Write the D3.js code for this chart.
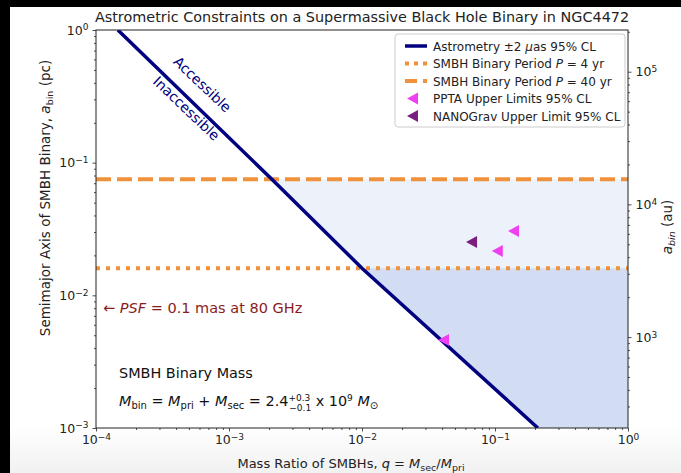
<!DOCTYPE html>
<html>
<head>
<meta charset="utf-8">
<script src="https://cdn.jsdelivr.net/npm/d3@7"></script>
<style>
  body { margin: 0; background: #fff; }
  svg { display: block; font-family: "DejaVu Sans", sans-serif; }
</style>
</head>
<body>
<svg id="chart" width="681" height="473"></svg>
<script>
// astrometry limit line (q, a_bin in pc)
var lineQ = [1.46e-4, 2.1e-3, 1.0e-2, 0.21];
var lineA = [1.0, 0.075, 0.016, 0.001];

// binary period lines (pc)
var period4 = 0.016;
var period40 = 0.075;

// pulsar timing upper limits
var pptaQ = [0.0414, 0.105, 0.139];
var pptaA = [0.0046, 0.0216, 0.0306];
var nanoQ = [0.0672];
var nanoA = [0.0252];

var xTicks = [1e-4, 1e-3, 1e-2, 1e-1, 1];
var xExp = ["\u22124", "\u22123", "\u22122", "\u22121", "0"];
var yTicks = [1e-3, 1e-2, 1e-1, 1];
var yExp = ["\u22123", "\u22122", "\u22121", "0"];
var auTicks = [1e3, 1e4, 1e5];
var auExp = ["3", "4", "5"];
var pcToAu = 206265;

var margin = {top: 30, right: 53, bottom: 45, left: 96},
    width = 628 - margin.left,
    height = 428 - margin.top;

var svg = d3.select("#chart");

// background: black strip on the left and top, faint grey at the bottom
var defs = svg.append("defs");
var grad = defs.append("linearGradient").attr("id", "bg").attr("x1", 0).attr("x2", 0).attr("y1", 0).attr("y2", 1);
grad.append("stop").attr("offset", "0.9").attr("stop-color", "#ffffff");
grad.append("stop").attr("offset", "1").attr("stop-color", "#f1f1f1");
svg.append("rect").attr("width", 681).attr("height", 473).attr("fill", "#000");
svg.append("rect").attr("x", 10).attr("y", 7).attr("width", 671).attr("height", 466).attr("fill", "url(#bg)");

defs.append("clipPath").attr("id", "plotclip")
  .append("rect").attr("width", width).attr("height", height);

var g = svg.append("g").attr("transform", "translate(" + margin.left + "," + margin.top + ")");

var x = d3.scaleLog().domain([1e-4, 1]).range([0, width]);
var y = d3.scaleLog().domain([1e-3, 1]).range([height, 0]);
var yAu = d3.scaleLog().domain([1e-3 * pcToAu, pcToAu]).range([height, 0]);

var plot = g.append("g").attr("clip-path", "url(#plotclip)");

var linePts = lineQ.map(function(q, i) { return [q, lineA[i]]; });

// shaded regions right of the astrometry line, below each period line
function region(level) {
  var pts = linePts.filter(function(d) { return d[1] <= level; });
  pts.push([1, 1e-3], [1, level]);
  return pts;
}
var area = d3.line().x(function(d) { return x(d[0]); }).y(function(d) { return y(d[1]); });
plot.append("path").attr("d", area(region(period40)) + "Z").attr("fill", "#6d93db").attr("fill-opacity", 0.13);
plot.append("path").attr("d", area(region(period4)) + "Z").attr("fill", "#6d93db").attr("fill-opacity", 0.2);

var orange = "#f0923b";
plot.append("line").attr("x1", 0).attr("x2", width).attr("y1", y(period40)).attr("y2", y(period40))
  .attr("stroke", orange).attr("stroke-width", 4).attr("stroke-dasharray", "15,6");
plot.append("line").attr("x1", 0).attr("x2", width).attr("y1", y(period4)).attr("y2", y(period4))
  .attr("stroke", orange).attr("stroke-width", 4).attr("stroke-dasharray", "4,6");

plot.append("path").attr("d", area(linePts)).attr("fill", "none")
  .attr("stroke", "#000080").attr("stroke-width", 3.5);

// left-pointing triangles
function tri(sel, color) {
  sel.attr("d", "M-6,0L5,-6L5,6Z").attr("fill", color);
}
plot.selectAll(".nano").data(nanoQ).enter().append("path")
  .attr("transform", function(d, i) { return "translate(" + x(d) + "," + y(nanoA[i]) + ")"; })
  .call(tri, "#7a1f7e");
plot.selectAll(".ppta").data(pptaQ).enter().append("path")
  .attr("transform", function(d, i) { return "translate(" + x(d) + "," + y(pptaA[i]) + ")"; })
  .call(tri, "#ee3ff0");

// axes
function supLabels(axisG, exps) {
  axisG.selectAll(".tick text").each(function(d, i) {
    var t = d3.select(this);
    t.text("10");
    t.append("tspan").attr("dy", "-0.45em").attr("font-size", "9px").text(exps[i]);
  });
}
function minors(dom) {
  var out = [];
  for (var e = Math.round(Math.log10(dom[0])); e < Math.round(Math.log10(dom[1])); e++)
    for (var k = 2; k < 10; k++) out.push(k * Math.pow(10, e));
  return out;
}

var xMin = g.append("g").attr("transform", "translate(0," + height + ")")
  .call(d3.axisBottom(x).tickValues(minors([1e-4, 1])).tickSize(2).tickFormat(""));
var xAx = g.append("g").attr("transform", "translate(0," + height + ")")
  .call(d3.axisBottom(x).tickValues(xTicks).tickSize(3.5).tickPadding(4));
supLabels(xAx, xExp);

var yMin = g.append("g").call(d3.axisLeft(y).tickValues(minors([1e-3, 1])).tickSize(2).tickFormat(""));
var yAx = g.append("g").call(d3.axisLeft(y).tickValues(yTicks).tickSize(3.5).tickPadding(4));
supLabels(yAx, yExp);

var auMinorVals = minors([1e2, 1e6]).filter(function(v) { return v >= 1e-3 * pcToAu && v <= pcToAu; });
var rMin = g.append("g").attr("transform", "translate(" + width + ",0)")
  .call(d3.axisRight(yAu).tickValues(auMinorVals).tickSize(2).tickFormat(""));
var rAx = g.append("g").attr("transform", "translate(" + width + ",0)")
  .call(d3.axisRight(yAu).tickValues(auTicks).tickSize(3.5).tickPadding(4));
supLabels(rAx, auExp);

[xMin, xAx, yMin, yAx, rMin, rAx].forEach(function(a) {
  a.select(".domain").remove();
  a.selectAll(".tick line").attr("stroke", "#222").attr("stroke-width", 0.8);
  a.selectAll("text").attr("font-family", "DejaVu Sans").attr("font-size", "12.5px").attr("fill", "#222");
});

g.append("rect").attr("width", width).attr("height", height)
  .attr("fill", "none").attr("stroke", "#222").attr("stroke-width", 1);

// title and axis labels
svg.append("text").attr("x", 362).attr("y", 22).attr("text-anchor", "middle")
  .attr("font-size", "14.4px").attr("fill", "#222")
  .text("Astrometric Constraints on a Supermassive Black Hole Binary in NGC4472");

var xl = svg.append("text").attr("x", 351).attr("y", 468).attr("text-anchor", "middle")
  .attr("font-size", "13px").attr("fill", "#222");
xl.append("tspan").text("Mass Ratio of SMBHs, ");
xl.append("tspan").attr("font-style", "italic").text("q");
xl.append("tspan").text(" = ");
xl.append("tspan").attr("font-style", "italic").text("M");
xl.append("tspan").attr("font-size", "9.5px").attr("dy", 3).text("sec");
xl.append("tspan").attr("dy", -3).text("/");
xl.append("tspan").attr("font-style", "italic").text("M");
xl.append("tspan").attr("font-size", "9.5px").attr("dy", 3).text("pri");

var yl = svg.append("text").attr("transform", "translate(50,198) rotate(-90)")
  .attr("text-anchor", "middle").attr("font-size", "13.5px").attr("fill", "#222");
yl.append("tspan").text("Semimajor Axis of SMBH Binary, ");
yl.append("tspan").attr("font-style", "italic").text("a");
yl.append("tspan").attr("font-size", "9.5px").attr("dy", 3).text("bin");
yl.append("tspan").attr("dy", -3).text(" (pc)");

var rl = svg.append("text").attr("transform", "translate(672,227) rotate(-90)")
  .attr("text-anchor", "middle").attr("font-size", "13.5px").attr("fill", "#222");
rl.append("tspan").attr("font-style", "italic").text("a");
rl.append("tspan").attr("font-style", "italic").attr("font-size", "9.5px").attr("dy", 3).text("bin");
rl.append("tspan").attr("dy", -3).text(" (au)");

// annotations
var ang = Math.atan2(y(lineA[3]) - y(lineA[0]), x(lineQ[3]) - x(lineQ[0])) * 180 / Math.PI;
svg.append("text").attr("transform", "translate(199,88) rotate(" + ang + ")")
  .attr("text-anchor", "middle").attr("font-size", "14px").attr("fill", "#000080").text("Accessible");
svg.append("text").attr("transform", "translate(183,112) rotate(" + ang + ")")
  .attr("text-anchor", "middle").attr("font-size", "14px").attr("fill", "#000080").text("Inaccessible");

var psf = svg.append("text").attr("x", 103).attr("y", 313).attr("font-size", "14.5px").attr("fill", "#8b1c1c");
psf.append("tspan").text("\u2190 ");
psf.append("tspan").attr("font-style", "italic").text("PSF");
psf.append("tspan").text(" = 0.1 mas at 80 GHz");

svg.append("text").attr("x", 119).attr("y", 378).attr("font-size", "14.4px").attr("fill", "#111")
  .text("SMBH Binary Mass");
var mt = svg.append("text").attr("x", 119).attr("y", 406).attr("font-size", "14.4px").attr("fill", "#111");
mt.append("tspan").attr("font-style", "italic").text("M");
mt.append("tspan").attr("font-size", "10px").attr("dy", 3).text("bin");
mt.append("tspan").attr("dy", -3).text(" = ");
mt.append("tspan").attr("font-style", "italic").text("M");
mt.append("tspan").attr("font-size", "10px").attr("dy", 3).text("pri");
mt.append("tspan").attr("dy", -3).text(" + ");
mt.append("tspan").attr("font-style", "italic").text("M");
mt.append("tspan").attr("font-size", "10px").attr("dy", 3).text("sec");
mt.append("tspan").attr("dy", -3).text(" = 2.4");
mt.append("tspan").attr("font-size", "9px").attr("dy", -5).text("+0.3");
mt.append("tspan").attr("font-size", "9px").attr("dx", -21).attr("dy", 10).text("\u22120.1");
mt.append("tspan").attr("dy", -5).text(" x 10");
mt.append("tspan").attr("font-size", "9px").attr("dy", -5).text("9");
mt.append("tspan").attr("dy", 5).attr("font-style", "italic").text(" M");
mt.append("tspan").attr("font-size", "10px").attr("dy", 3).text("\u2299");

// legend
var leg = svg.append("g").attr("transform", "translate(395,34)");
leg.append("rect").attr("width", 230).attr("height", 93).attr("rx", 3)
  .attr("fill", "#fff").attr("fill-opacity", 0.85).attr("stroke", "#ccc");
var legItems = [
  {type: "solid"}, {type: "dot"}, {type: "dash"}, {type: "ppta"}, {type: "nano"}
];
legItems.forEach(function(d, i) {
  var row = leg.append("g").attr("transform", "translate(0," + (12 + i * 17.5) + ")");
  if (d.type === "solid")
    row.append("line").attr("x1", 10).attr("x2", 32).attr("stroke", "#000080").attr("stroke-width", 3.5);
  if (d.type === "dot")
    row.append("line").attr("x1", 10).attr("x2", 32).attr("stroke", orange).attr("stroke-width", 4).attr("stroke-dasharray", "4,5");
  if (d.type === "dash")
    row.append("line").attr("x1", 10).attr("x2", 32).attr("stroke", orange).attr("stroke-width", 4).attr("stroke-dasharray", "12,6");
  if (d.type === "ppta")
    row.append("path").attr("transform", "translate(18,0)").call(tri, "#ee3ff0");
  if (d.type === "nano")
    row.append("path").attr("transform", "translate(18,0)").call(tri, "#7a1f7e");
  var t = row.append("text").attr("x", 38).attr("y", 4.5).attr("font-size", "12px").attr("fill", "#222");
  if (i === 0) {
    t.append("tspan").text("Astrometry \u00b12 ");
    t.append("tspan").attr("font-style", "italic").text("\u03bc");
    t.append("tspan").text("as 95% CL");
  } else if (i === 1 || i === 2) {
    t.append("tspan").text("SMBH Binary Period ");
    t.append("tspan").attr("font-style", "italic").text("P");
    t.append("tspan").text(i === 1 ? " = 4 yr" : " = 40 yr");
  } else if (i === 3) {
    t.text("PPTA Upper Limits 95% CL");
  } else {
    t.text("NANOGrav Upper Limit 95% CL");
  }
});
</script>
</body>
</html>
